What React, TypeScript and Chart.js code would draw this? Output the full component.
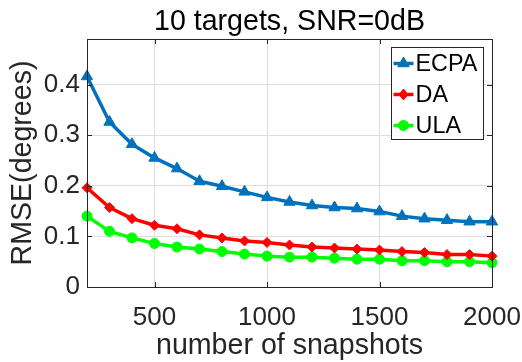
import React, { useEffect, useRef } from 'react';
import { Chart, registerables } from 'chart.js';

Chart.register(...registerables);

const snapshots = [200, 300, 400, 500, 600, 700, 800, 900, 1000, 1100, 1200, 1300, 1400, 1500, 1600, 1700, 1800, 1900, 2000];
const ecpa = [0.416, 0.326, 0.282, 0.255, 0.234, 0.209, 0.199, 0.188, 0.177, 0.168, 0.161, 0.157, 0.155, 0.149, 0.140, 0.135, 0.132, 0.129, 0.129];
const da = [0.196, 0.157, 0.135, 0.122, 0.115, 0.103, 0.097, 0.091, 0.088, 0.083, 0.079, 0.077, 0.075, 0.073, 0.070, 0.068, 0.064, 0.064, 0.061];
const ula = [0.140, 0.110, 0.097, 0.086, 0.079, 0.075, 0.070, 0.065, 0.061, 0.059, 0.059, 0.057, 0.055, 0.055, 0.052, 0.052, 0.050, 0.050, 0.048];
const xTicks = [500, 1000, 1500, 2000];
const yTicks = [0, 0.1, 0.2, 0.3, 0.4];
const seriesNames = ['ECPA', 'DA', 'ULA'];
const seriesColors = ['#0072BD', '#FF0000', '#00FF00'];
const seriesMarkers = ['triangle', 'rectRot', 'circle'];
const titleText = '10 targets, SNR=0dB';
const xTitle = 'number of snapshots';
const yTitle = 'RMSE(degrees)';

const FONT = "'Liberation Sans', Arial, Helvetica, sans-serif";
const AXIS_COLOR = '#262626';

function drawMarker(ctx: CanvasRenderingContext2D, kind: string, x: number, y: number, color: string) {
  ctx.fillStyle = color;
  ctx.strokeStyle = color;
  ctx.lineWidth = 1;
  ctx.beginPath();
  if (kind === 'triangle') {
    const r = 6.5;
    for (let i = 0; i < 3; i++) {
      const a = (i * 2 * Math.PI) / 3;
      const px = x + Math.sin(a) * r;
      const py = y - Math.cos(a) * r;
      if (i === 0) ctx.moveTo(px, py); else ctx.lineTo(px, py);
    }
    ctx.closePath();
  } else if (kind === 'rectRot') {
    const r = 5.5;
    ctx.moveTo(x, y - r);
    ctx.lineTo(x + r * 0.8, y);
    ctx.lineTo(x, y + r);
    ctx.lineTo(x - r * 0.8, y);
    ctx.closePath();
  } else {
    ctx.arc(x, y, 5, 0, Math.PI * 2);
  }
  ctx.fill();
  ctx.stroke();
}

const frameAndLegend = {
  id: 'frameAndLegend',
  afterDraw(chart: any) {
    const { ctx, chartArea: a, scales } = chart;
    const xs = scales.x;
    const ys = scales.y;
    ctx.save();
    // title centred over the plot area
    ctx.fillStyle = '#000000';
    ctx.font = `28.6px ${FONT}`;
    ctx.textAlign = 'center';
    ctx.textBaseline = 'alphabetic';
    ctx.fillText(titleText, (a.left + a.right) / 2, a.top - 9);

    ctx.strokeStyle = AXIS_COLOR;
    ctx.lineWidth = 1;
    ctx.beginPath();
    for (const t of xTicks) {
      const px = Math.round(xs.getPixelForValue(t)) + 0.5;
      ctx.moveTo(px, a.bottom);
      ctx.lineTo(px, a.bottom - 5);
      ctx.moveTo(px, a.top);
      ctx.lineTo(px, a.top + 5);
    }
    for (const t of yTicks) {
      const py = Math.round(ys.getPixelForValue(t)) + 0.5;
      ctx.moveTo(a.left, py);
      ctx.lineTo(a.left + 5, py);
      ctx.moveTo(a.right, py);
      ctx.lineTo(a.right - 5, py);
    }
    ctx.stroke();
    ctx.strokeRect(Math.round(a.left) + 0.5, Math.round(a.top) + 0.5, Math.round(a.right - a.left), Math.round(a.bottom - a.top));

    // legend
    const bw = 92;
    const bh = 92;
    const bx = Math.round(a.right - 9 - bw) + 0.5;
    const by = Math.round(a.top + 8) + 0.5;
    ctx.fillStyle = '#ffffff';
    ctx.fillRect(bx, by, bw, bh);
    ctx.strokeStyle = AXIS_COLOR;
    ctx.lineWidth = 1;
    ctx.strokeRect(bx, by, bw, bh);
    ctx.font = `23.4px ${FONT}`;
    ctx.textBaseline = 'middle';
    ctx.textAlign = 'left';
    seriesNames.forEach((name, i) => {
      const cy = by + 16 + i * 31;
      const lx0 = bx + 2;
      const lx1 = bx + 22;
      ctx.strokeStyle = seriesColors[i];
      ctx.lineWidth = 3.5;
      ctx.beginPath();
      ctx.moveTo(lx0, cy);
      ctx.lineTo(lx1, cy);
      ctx.stroke();
      drawMarker(ctx, seriesMarkers[i], (lx0 + lx1) / 2, cy, seriesColors[i]);
      ctx.fillStyle = '#000000';
      ctx.fillText(name, bx + 24, cy + 1);
    });
    ctx.restore();
  },
};

export default function App() {
  const ref = useRef<HTMLCanvasElement | null>(null);
  useEffect(() => {
    if (!ref.current) return;
    const series = [ecpa, da, ula];
    const chart = new Chart(ref.current, {
      type: 'line',
      data: {
        datasets: series.map((vals, i) => ({
          label: seriesNames[i],
          data: snapshots.map((x, j) => ({ x, y: vals[j] })),
          borderColor: seriesColors[i],
          backgroundColor: seriesColors[i],
          borderWidth: 3.5,
          pointStyle: seriesMarkers[i] as any,
          pointRadius: i === 0 ? 6.5 : 5,
          pointBorderWidth: 1,
          pointBackgroundColor: seriesColors[i],
          pointBorderColor: seriesColors[i],
          tension: 0,
          clip: false as any,
        })),
      },
      options: {
        responsive: false,
        animation: false,
        events: [],
        layout: { padding: { left: 0, right: 30, top: 39, bottom: 0 } },
        plugins: {
          legend: { display: false },
          tooltip: { enabled: false },
          title: { display: false },
        },
        scales: {
          x: {
            type: 'linear',
            min: 200,
            max: 2000,
            afterBuildTicks: (s: any) => { s.ticks = xTicks.map((v) => ({ value: v })); },
            afterFit: (s: any) => { s.height = 75; s.paddingLeft = 0; s.paddingRight = 0; },
            ticks: {
              autoSkip: false,
              maxRotation: 0,
              padding: 15,
              color: AXIS_COLOR,
              font: { family: FONT, size: 26 },
              callback: (v: any) => String(v),
            },
            grid: { color: '#dedede', drawTicks: false, lineWidth: 1 },
            border: { display: false },
            title: {
              display: true,
              text: xTitle,
              color: AXIS_COLOR,
              font: { family: FONT, size: 28.6, lineHeight: 1 },
              padding: { top: 0, bottom: 2 },
            },
          },
          y: {
            type: 'linear',
            min: 0,
            max: 0.49,
            afterBuildTicks: (s: any) => { s.ticks = yTicks.map((v) => ({ value: v })); },
            afterFit: (s: any) => { s.width = 87; s.paddingTop = 0; s.paddingBottom = 0; },
            ticks: {
              padding: 7,
              color: AXIS_COLOR,
              font: { family: FONT, size: 26 },
              callback: (v: any) => String(Math.round(v * 10) / 10),
            },
            grid: { color: '#dedede', drawTicks: false, lineWidth: 1 },
            border: { display: false },
            title: {
              display: true,
              text: yTitle,
              color: AXIS_COLOR,
              font: { family: FONT, size: 28.6 },
              padding: { top: 6, bottom: 0 },
            },
          },
        },
      },
      plugins: [frameAndLegend],
    });
    return () => chart.destroy();
  }, []);
  return (
    <div style={{ position: 'fixed', left: 0, top: 0, width: 522, height: 362, background: '#ffffff' }}>
      <canvas ref={ref} width={522} height={362} style={{ width: 522, height: 362, display: 'block' }} />
    </div>
  );
}
